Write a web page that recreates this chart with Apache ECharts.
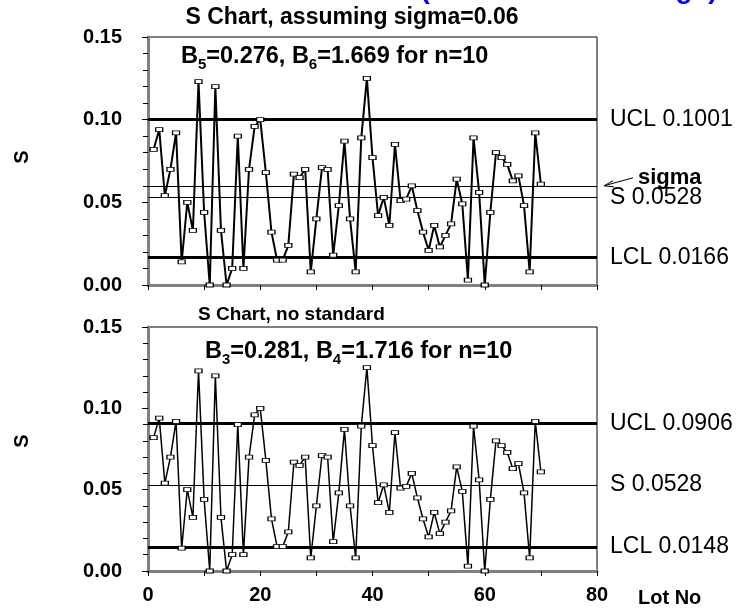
<!DOCTYPE html>
<html>
<head>
<meta charset="utf-8">
<script src="https://cdn.jsdelivr.net/npm/echarts@6.0.0/dist/echarts.min.js"></script>
<style>
  html, body { margin: 0; padding: 0; background: #fff; }
  #chart { width: 736px; height: 610px; }
</style>
</head>
<body>
<div id="chart"></div>
<script>
// Lot numbers and the sample standard deviation of each lot (n = 10)
const lotNo = [
  1, 2, 3, 4, 5, 6, 7, 8, 9, 10,
  11, 12, 13, 14, 15, 16, 17, 18, 19, 20,
  21, 22, 23, 24, 25, 26, 27, 28, 29, 30,
  31, 32, 33, 34, 35, 36, 37, 38, 39, 40,
  41, 42, 43, 44, 45, 46, 47, 48, 49, 50,
  51, 52, 53, 54, 55, 56, 57, 58, 59, 60,
  61, 62, 63, 64, 65, 66, 67, 68, 69, 70
];
const sValues = [
  0.082, 0.094, 0.054, 0.070, 0.092, 0.014, 0.050, 0.033, 0.123, 0.044,
  0.000, 0.120, 0.033, 0.000, 0.010, 0.090, 0.010, 0.070, 0.096, 0.100,
  0.068, 0.032, 0.015, 0.015, 0.024, 0.067, 0.065, 0.070, 0.008, 0.040,
  0.071, 0.070, 0.018, 0.048, 0.087, 0.040, 0.008, 0.089, 0.125, 0.077,
  0.042, 0.053, 0.036, 0.085, 0.051, 0.052, 0.060, 0.045, 0.032, 0.021,
  0.036, 0.023, 0.030, 0.037, 0.064, 0.049, 0.003, 0.089, 0.056, 0.000,
  0.044, 0.080, 0.077, 0.073, 0.063, 0.066, 0.048, 0.008, 0.092, 0.061
];

// Control lines, chart with a known sigma
const sigmaLimitValues = [0.1001, 0.06, 0.0528, 0.0166];
const sigmaLimitLabels = ['UCL 0.1001', 'sigma', 'S 0.0528', 'LCL 0.0166'];
const sigmaLimitWidths = [3, 1, 1, 3];

// Control lines, chart with no standard given
const noStdLimitValues = [0.0906, 0.0528, 0.0148];
const noStdLimitLabels = ['UCL 0.0906', 'S 0.0528', 'LCL 0.0148'];
const noStdLimitWidths = [3, 1, 3];

// Axis ranges and ticks
const xRange = [0, 80];
const xStep = 20;
const yRange = [0, 0.15];
const yStep = 0.05;

const FONT = '"Liberation Sans", Arial, sans-serif';

const points = lotNo.map((x, i) => [x, sValues[i]]);

function limitLines(values, labels, widths) {
  return values.map((v, i) => {
    const isSigma = labels[i] === 'sigma';
    return {
      yAxis: v,
      lineStyle: { color: '#000', width: widths[i], type: 'solid' },
      label: {
        show: true,
        position: 'end',
        formatter: labels[i],
        distance: isSigma ? 41 : 13,
        offset: isSigma ? [0, -8] : [0, 0],
        color: '#000',
        fontFamily: FONT,
        fontSize: isSigma ? 22 : 23,
        fontWeight: isSigma ? 'bold' : 'normal'
      }
    };
  });
}

function xAxisFor(gridIndex, withLabels) {
  return {
    gridIndex, type: 'value', min: xRange[0], max: xRange[1], interval: xStep,
    axisLine: { show: true, onZero: false, lineStyle: { color: '#808080', width: 3 } },
    axisTick: { show: true, length: 5, lineStyle: { color: '#000', width: 1 } },
    minorTick: { show: true, splitNumber: 2, length: 5, lineStyle: { color: '#000', width: 1 } },
    splitLine: { show: false },
    axisLabel: {
      show: withLabels, color: '#000', fontFamily: FONT, fontSize: 20, fontWeight: 'bold', margin: 14
    }
  };
}

function yAxisFor(gridIndex) {
  return {
    gridIndex, type: 'value', min: yRange[0], max: yRange[1], interval: yStep,
    axisLine: { show: true, onZero: false, lineStyle: { color: '#808080', width: 3 } },
    axisTick: { show: true, length: 6, lineStyle: { color: '#000', width: 1 } },
    minorTick: { show: true, splitNumber: 5, length: 5, lineStyle: { color: '#000', width: 1 } },
    splitLine: { show: false },
    axisLabel: {
      color: '#000', fontFamily: FONT, fontSize: 20, fontWeight: 'bold', margin: 26,
      formatter: v => v.toFixed(2)
    }
  };
}

function sSeries(index, limits, labels, widths, lineWidth) {
  return {
    type: 'line',
    xAxisIndex: index, yAxisIndex: index,
    data: points,
    symbol: 'rect',
    symbolSize: [7, 4],
    itemStyle: { color: '#fff', borderColor: '#000', borderWidth: 1 },
    lineStyle: { color: '#000', width: lineWidth },
    z: 3,
    markLine: {
      silent: true, symbol: 'none', animation: false, z: 2, precision: 4,
      data: limitLines(limits, labels, widths)
    }
  };
}

const subRich = {
  m: { fontFamily: FONT, fontSize: 23.5, fontWeight: 'bold', color: '#000', lineHeight: 30, verticalAlign: 'middle' },
  s: { fontFamily: FONT, fontSize: 15, fontWeight: 'bold', color: '#000', lineHeight: 15, verticalAlign: 'bottom' }
};

const gridBase = { left: 148, width: 449, show: true, borderColor: '#000', borderWidth: 1, backgroundColor: 'transparent', containLabel: false, outerBoundsMode: 'none' };

const yTitle = { fill: '#000', font: 'bold 20px ' + FONT, align: 'center', verticalAlign: 'middle', text: 'S' };

const chart = echarts.init(document.getElementById('chart'), null, { renderer: 'canvas' });

chart.setOption({
  animation: false,
  backgroundColor: '#fff',
  grid: [
    Object.assign({ top: 37, height: 248 }, gridBase),
    Object.assign({ top: 327, height: 244 }, gridBase)
  ],
  xAxis: [xAxisFor(0, false), xAxisFor(1, true)],
  yAxis: [yAxisFor(0), yAxisFor(1)],
  series: [
    sSeries(0, sigmaLimitValues, sigmaLimitLabels, sigmaLimitWidths, 2),
    sSeries(1, noStdLimitValues, noStdLimitLabels, noStdLimitWidths, 1.5)
  ],
  graphic: [
    {
      id: 'topNote', type: 'text', x: 569, y: -10,
      style: { text: '(S Chart for the range)', fill: '#0000ff', font: 'bold 28px ' + FONT, align: 'center', verticalAlign: 'middle' }
    },
    {
      id: 'title1', type: 'text', x: 352, y: 18,
      style: { text: 'S Chart, assuming sigma=0.06', fill: '#000', font: 'bold 23px ' + FONT, align: 'center', verticalAlign: 'middle' }
    },
    {
      id: 'factors1', type: 'text', x: 181, y: 57,
      style: { text: '{m|B}{s|5}{m|=0.276, B}{s|6}{m|=1.669 for n=10}', rich: subRich, align: 'left', verticalAlign: 'middle' }
    },
    {
      id: 'title2', type: 'text', x: 198, y: 315,
      style: { text: 'S Chart, no standard', fill: '#000', font: 'bold 19px ' + FONT, align: 'left', verticalAlign: 'middle' }
    },
    {
      id: 'factors2', type: 'text', x: 205, y: 352,
      style: { text: '{m|B}{s|3}{m|=0.281, B}{s|4}{m|=1.716 for n=10}', rich: subRich, align: 'left', verticalAlign: 'middle' }
    },
    { id: 'yName1', type: 'text', x: 22, y: 157, rotation: Math.PI / 2, style: yTitle },
    { id: 'yName2', type: 'text', x: 22, y: 441, rotation: Math.PI / 2, style: yTitle },
    {
      id: 'xName', type: 'text', x: 638, y: 598,
      style: { text: 'Lot No', fill: '#000', font: 'bold 20px ' + FONT, align: 'left', verticalAlign: 'middle' }
    }
  ]
});

// Small arrow pointing from the "sigma" label back to its line
const sigmaEnd = chart.convertToPixel({ gridIndex: 0 }, [xRange[1], sigmaLimitValues[1]]);
const tip = [sigmaEnd[0] + 7, sigmaEnd[1]];
const tail = [sigmaEnd[0] + 36, sigmaEnd[1] - 8];
chart.setOption({
  graphic: [
    {
      id: 'sigmaArrowShaft', type: 'line',
      shape: { x1: tail[0], y1: tail[1], x2: tip[0], y2: tip[1] },
      style: { stroke: '#000', lineWidth: 1 }
    },
    {
      id: 'sigmaArrowHead', type: 'polyline',
      shape: { points: [[tip[0] + 9, tip[1] - 5], tip, [tip[0] + 10, tip[1] + 1]] },
      style: { stroke: '#000', lineWidth: 1, fill: null }
    }
  ]
});
</script>
</body>
</html>
